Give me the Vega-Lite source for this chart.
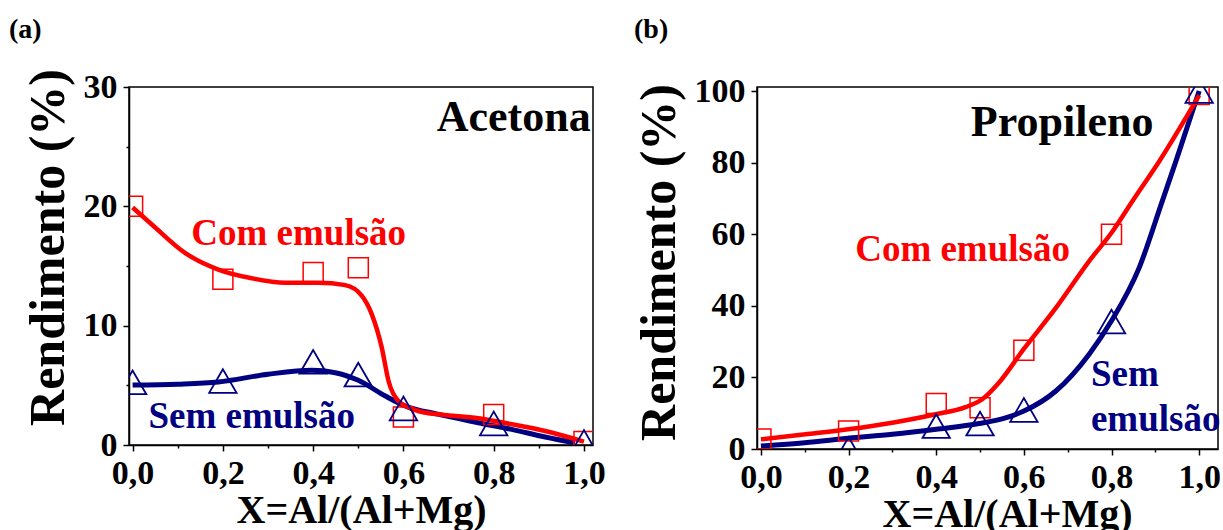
{
  "$schema": "https://vega.github.io/schema/vega-lite/v6.json",
  "background": "white",
  "padding": {"left": 8, "top": 14, "right": 0, "bottom": 0},
  "spacing": 27,
  "config": {
    "font": "Liberation Serif",
    "view": {"stroke": "black", "strokeWidth": 1.5},
    "axis": {
      "grid": false,
      "domainColor": "black",
      "domainWidth": 1.5,
      "tickColor": "black",
      "tickWidth": 1.5,
      "labelFont": "Liberation Serif",
      "labelFontWeight": "bold",
      "labelFontSize": 34,
      "labelColor": "black",
      "labelFlush": false,
      "labelOverlap": false,
      "titleFont": "Liberation Serif",
      "titleFontWeight": "bold",
      "titleColor": "black"
    },
    "text": {"font": "Liberation Serif", "fontWeight": "bold", "baseline": "alphabetic", "align": "left"},
    "title": {"font": "Liberation Serif", "fontWeight": "bold", "fontSize": 28, "color": "black", "anchor": "start", "frame": "bounds"}
  },
  "datasets": {
    "acetona_pontos": [
      {"x": 0.0, "rend": 20.0, "serie": "Com emulsão"},
      {"x": 0.2, "rend": 13.9, "serie": "Com emulsão"},
      {"x": 0.4, "rend": 14.45, "serie": "Com emulsão"},
      {"x": 0.5, "rend": 14.86, "serie": "Com emulsão"},
      {"x": 0.6, "rend": 2.35, "serie": "Com emulsão"},
      {"x": 0.8, "rend": 2.55, "serie": "Com emulsão"},
      {"x": 1.0, "rend": 0.3, "serie": "Com emulsão"},
      {"x": 0.0, "rend": 5.25, "serie": "Sem emulsão"},
      {"x": 0.2, "rend": 5.36, "serie": "Sem emulsão"},
      {"x": 0.4, "rend": 6.97, "serie": "Sem emulsão"},
      {"x": 0.5, "rend": 5.9, "serie": "Sem emulsão"},
      {"x": 0.6, "rend": 3.06, "serie": "Sem emulsão"},
      {"x": 0.8, "rend": 1.8, "serie": "Sem emulsão"},
      {"x": 1.0, "rend": 0.25, "serie": "Sem emulsão"}
    ],
    "acetona_ajuste": [
      {"x": 0.0, "rend": 19.9, "serie": "Com emulsão"},
      {"x": 0.042, "rend": 18.5, "serie": "Com emulsão"},
      {"x": 0.116, "rend": 16.1, "serie": "Com emulsão"},
      {"x": 0.19, "rend": 14.7, "serie": "Com emulsão"},
      {"x": 0.264, "rend": 13.97, "serie": "Com emulsão"},
      {"x": 0.338, "rend": 13.6, "serie": "Com emulsão"},
      {"x": 0.412, "rend": 13.6, "serie": "Com emulsão"},
      {"x": 0.471, "rend": 13.4, "serie": "Com emulsão"},
      {"x": 0.508, "rend": 12.5, "serie": "Com emulsão"},
      {"x": 0.53, "rend": 10.95, "serie": "Com emulsão"},
      {"x": 0.552, "rend": 8.16, "serie": "Com emulsão"},
      {"x": 0.567, "rend": 5.36, "serie": "Com emulsão"},
      {"x": 0.589, "rend": 3.69, "serie": "Com emulsão"},
      {"x": 0.633, "rend": 2.85, "serie": "Com emulsão"},
      {"x": 0.678, "rend": 2.57, "serie": "Com emulsão"},
      {"x": 0.766, "rend": 2.24, "serie": "Com emulsão"},
      {"x": 0.84, "rend": 1.74, "serie": "Com emulsão"},
      {"x": 0.914, "rend": 1.17, "serie": "Com emulsão"},
      {"x": 1.0, "rend": 0.28, "serie": "Com emulsão"},
      {"x": 0.0, "rend": 5.03, "serie": "Sem emulsão"},
      {"x": 0.1, "rend": 5.1, "serie": "Sem emulsão"},
      {"x": 0.19, "rend": 5.28, "serie": "Sem emulsão"},
      {"x": 0.3, "rend": 5.93, "serie": "Sem emulsão"},
      {"x": 0.397, "rend": 6.26, "serie": "Sem emulsão"},
      {"x": 0.449, "rend": 6.06, "serie": "Sem emulsão"},
      {"x": 0.5, "rend": 5.42, "serie": "Sem emulsão"},
      {"x": 0.56, "rend": 4.1, "serie": "Sem emulsão"},
      {"x": 0.604, "rend": 3.27, "serie": "Sem emulsão"},
      {"x": 0.678, "rend": 2.57, "serie": "Sem emulsão"},
      {"x": 0.766, "rend": 1.87, "serie": "Sem emulsão"},
      {"x": 0.84, "rend": 1.31, "serie": "Sem emulsão"},
      {"x": 0.914, "rend": 0.67, "serie": "Sem emulsão"},
      {"x": 0.98, "rend": 0.19, "serie": "Sem emulsão"}
    ],
    "propileno_pontos": [
      {"x": 0.0, "rend": 2.8, "serie": "Com emulsão"},
      {"x": 0.2, "rend": 5.0, "serie": "Com emulsão"},
      {"x": 0.4, "rend": 12.7, "serie": "Com emulsão"},
      {"x": 0.5, "rend": 11.5, "serie": "Com emulsão"},
      {"x": 0.6, "rend": 27.6, "serie": "Com emulsão"},
      {"x": 0.8, "rend": 60.0, "serie": "Com emulsão"},
      {"x": 1.0, "rend": 99.0, "serie": "Com emulsão"},
      {"x": 0.2, "rend": 0.0, "serie": "Sem emulsão"},
      {"x": 0.4, "rend": 6.4, "serie": "Sem emulsão"},
      {"x": 0.5, "rend": 7.1, "serie": "Sem emulsão"},
      {"x": 0.6, "rend": 10.9, "serie": "Sem emulsão"},
      {"x": 0.8, "rend": 35.6, "serie": "Sem emulsão"},
      {"x": 1.0, "rend": 100.0, "serie": "Sem emulsão"}
    ],
    "propileno_ajuste": [
      {"x": 0.0, "rend": 2.7, "serie": "Com emulsão"},
      {"x": 0.102, "rend": 4.1, "serie": "Com emulsão"},
      {"x": 0.199, "rend": 5.5, "serie": "Com emulsão"},
      {"x": 0.3, "rend": 7.35, "serie": "Com emulsão"},
      {"x": 0.399, "rend": 9.7, "serie": "Com emulsão"},
      {"x": 0.467, "rend": 11.7, "serie": "Com emulsão"},
      {"x": 0.505, "rend": 13.9, "serie": "Com emulsão"},
      {"x": 0.543, "rend": 18.5, "serie": "Com emulsão"},
      {"x": 0.599, "rend": 27.8, "serie": "Com emulsão"},
      {"x": 0.673, "rend": 39.4, "serie": "Com emulsão"},
      {"x": 0.749, "rend": 52.5, "serie": "Com emulsão"},
      {"x": 0.8, "rend": 60.4, "serie": "Com emulsão"},
      {"x": 0.848, "rend": 69.3, "serie": "Com emulsão"},
      {"x": 0.909, "rend": 80.4, "serie": "Com emulsão"},
      {"x": 1.0, "rend": 98.8, "serie": "Com emulsão"},
      {"x": 0.0, "rend": 0.85, "serie": "Sem emulsão"},
      {"x": 0.1, "rend": 1.77, "serie": "Sem emulsão"},
      {"x": 0.2, "rend": 3.0, "serie": "Sem emulsão"},
      {"x": 0.3, "rend": 4.1, "serie": "Sem emulsão"},
      {"x": 0.4, "rend": 5.5, "serie": "Sem emulsão"},
      {"x": 0.498, "rend": 7.1, "serie": "Sem emulsão"},
      {"x": 0.56, "rend": 8.75, "serie": "Sem emulsão"},
      {"x": 0.6, "rend": 10.6, "serie": "Sem emulsão"},
      {"x": 0.673, "rend": 16.2, "serie": "Sem emulsão"},
      {"x": 0.749, "rend": 26.5, "serie": "Sem emulsão"},
      {"x": 0.8, "rend": 35.8, "serie": "Sem emulsão"},
      {"x": 0.863, "rend": 50.6, "serie": "Sem emulsão"},
      {"x": 0.916, "rend": 69.3, "serie": "Sem emulsão"},
      {"x": 0.947, "rend": 80.4, "serie": "Sem emulsão"},
      {"x": 1.0, "rend": 100.0, "serie": "Sem emulsão"}
    ]
  },
  "hconcat": [
    {
      "width": 464,
      "height": 358,
      "title": {"text": "(a)", "dx": -14, "offset": 25},
      "layer": [
        {
          "data": {"name": "acetona_ajuste"},
          "transform": [{"filter": "datum.serie == 'Sem emulsão'"}],
          "mark": {"type": "line", "interpolate": "monotone", "color": "#000080", "strokeWidth": 5, "clip": true},
          "encoding": {
            "x": {
              "field": "x", "type": "quantitative",
              "scale": {"domain": [-0.008, 1.02], "nice": false, "zero": false},
              "axis": {
                "title": "X=Al/(Al+Mg)",
                "titleFontSize": 40,
                "titlePadding": 0,
                "labelPadding": 5,
                "values": [0, 0.1, 0.2, 0.3, 0.4, 0.5, 0.6, 0.7, 0.8, 0.9, 1.0],
                "labelExpr": "round(datum.value * 10) % 2 == 1 ? '' : replace(format(datum.value, '.1f'), '.', ',')",
                "tickSize": {"condition": {"test": "round(datum.value * 10) % 2 == 1", "value": 3}, "value": 6}
              }
            },
            "y": {
              "field": "rend", "type": "quantitative",
              "scale": {"domain": [0, 30], "nice": false},
              "axis": {
                "title": "Rendimento (%)",
                "titleFontSize": 50,
                "titlePadding": 10,
                "titleY": 160,
                "labelPadding": 6,
                "values": [0, 5, 10, 15, 20, 25, 30],
                "labelExpr": "datum.value % 10 == 0 ? format(datum.value, 'd') : ''",
                "tickSize": {"condition": {"test": "datum.value % 10 != 0", "value": 3}, "value": 6}
              }
            }
          }
        },
        {
          "data": {"name": "acetona_ajuste"},
          "transform": [{"filter": "datum.serie == 'Com emulsão'"}],
          "mark": {"type": "line", "interpolate": "monotone", "color": "#ff0000", "strokeWidth": 4.5, "clip": true},
          "encoding": {
            "x": {"field": "x", "type": "quantitative", "scale": {"domain": [-0.008, 1.02], "nice": false, "zero": false}},
            "y": {"field": "rend", "type": "quantitative", "scale": {"domain": [0, 30], "nice": false}}
          }
        },
        {
          "data": {"name": "acetona_pontos"},
          "transform": [{"filter": "datum.serie == 'Com emulsão'"}],
          "mark": {"type": "point", "shape": "square", "size": 400, "filled": false, "color": "#ff0000", "strokeWidth": 1.5, "opacity": 1, "clip": true},
          "encoding": {
            "x": {"field": "x", "type": "quantitative", "scale": {"domain": [-0.008, 1.02], "nice": false, "zero": false}},
            "y": {"field": "rend", "type": "quantitative", "scale": {"domain": [0, 30], "nice": false}}
          }
        },
        {
          "data": {"name": "acetona_pontos"},
          "transform": [{"filter": "datum.serie == 'Sem emulsão'"}],
          "mark": {"type": "point", "shape": "triangle-up", "size": 750, "filled": false, "color": "#000080", "strokeWidth": 1.8, "opacity": 1, "clip": true},
          "encoding": {
            "x": {"field": "x", "type": "quantitative", "scale": {"domain": [-0.008, 1.02], "nice": false, "zero": false}},
            "y": {"field": "rend", "type": "quantitative", "scale": {"domain": [0, 30], "nice": false}}
          }
        },
        {
          "data": {"values": [{}]},
          "mark": {"type": "text", "text": "Acetona", "align": "right", "fontSize": 44, "color": "black"},
          "encoding": {"x": {"datum": 1.015}, "y": {"datum": 26.3}}
        },
        {
          "data": {"values": [{}]},
          "mark": {"type": "text", "text": "Com emulsão", "fontSize": 37, "color": "#ff0000"},
          "encoding": {"x": {"datum": 0.13}, "y": {"datum": 16.8}}
        },
        {
          "data": {"values": [{}]},
          "mark": {"type": "text", "text": "Sem emulsão", "fontSize": 37, "color": "#000080"},
          "encoding": {"x": {"datum": 0.035}, "y": {"datum": 1.45}}
        }
      ]
    },
    {
      "width": 461,
      "height": 362,
      "title": {"text": "(b)", "dx": 0, "dy": -5, "offset": 25},
      "layer": [
        {
          "data": {"name": "propileno_ajuste"},
          "transform": [{"filter": "datum.serie == 'Sem emulsão'"}],
          "mark": {"type": "line", "interpolate": "monotone", "color": "#000080", "strokeWidth": 5, "clip": true},
          "encoding": {
            "x": {
              "field": "x", "type": "quantitative",
              "scale": {"domain": [-0.009, 1.043], "nice": false, "zero": false},
              "axis": {
                "title": "X=Al/(Al+Mg)",
                "titleFontSize": 40,
                "titlePadding": 0,
                "titleX": 250,
                "labelPadding": 5,
                "values": [0, 0.1, 0.2, 0.3, 0.4, 0.5, 0.6, 0.7, 0.8, 0.9, 1.0],
                "labelExpr": "round(datum.value * 10) % 2 == 1 ? '' : replace(format(datum.value, '.1f'), '.', ',')",
                "tickSize": {"condition": {"test": "round(datum.value * 10) % 2 == 1", "value": 3}, "value": 6}
              }
            },
            "y": {
              "field": "rend", "type": "quantitative",
              "scale": {"domain": [0, 101.12], "nice": false},
              "axis": {
                "title": "Rendimento (%)",
                "titleFontSize": 50,
                "titlePadding": 10,
                "titleY": 175,
                "labelPadding": 6,
                "values": [0, 10, 20, 30, 40, 50, 60, 70, 80, 90, 100],
                "labelExpr": "datum.value % 20 == 0 ? format(datum.value, 'd') : ''",
                "tickSize": {"condition": {"test": "datum.value % 20 != 0", "value": 3}, "value": 6}
              }
            }
          }
        },
        {
          "data": {"name": "propileno_ajuste"},
          "transform": [{"filter": "datum.serie == 'Com emulsão'"}],
          "mark": {"type": "line", "interpolate": "monotone", "color": "#ff0000", "strokeWidth": 4.5, "clip": true},
          "encoding": {
            "x": {"field": "x", "type": "quantitative", "scale": {"domain": [-0.009, 1.043], "nice": false, "zero": false}},
            "y": {"field": "rend", "type": "quantitative", "scale": {"domain": [0, 101.12], "nice": false}}
          }
        },
        {
          "data": {"name": "propileno_pontos"},
          "transform": [{"filter": "datum.serie == 'Com emulsão'"}],
          "mark": {"type": "point", "shape": "square", "size": 400, "filled": false, "color": "#ff0000", "strokeWidth": 1.5, "opacity": 1, "clip": true},
          "encoding": {
            "x": {"field": "x", "type": "quantitative", "scale": {"domain": [-0.009, 1.043], "nice": false, "zero": false}},
            "y": {"field": "rend", "type": "quantitative", "scale": {"domain": [0, 101.12], "nice": false}}
          }
        },
        {
          "data": {"name": "propileno_pontos"},
          "transform": [{"filter": "datum.serie == 'Sem emulsão'"}],
          "mark": {"type": "point", "shape": "triangle-up", "size": 750, "filled": false, "color": "#000080", "strokeWidth": 1.8, "opacity": 1, "clip": true},
          "encoding": {
            "x": {"field": "x", "type": "quantitative", "scale": {"domain": [-0.009, 1.043], "nice": false, "zero": false}},
            "y": {"field": "rend", "type": "quantitative", "scale": {"domain": [0, 101.12], "nice": false}}
          }
        },
        {
          "data": {"values": [{}]},
          "mark": {"type": "text", "text": "Propileno", "fontSize": 44, "color": "black"},
          "encoding": {"x": {"datum": 0.479}, "y": {"datum": 87.4}}
        },
        {
          "data": {"values": [{}]},
          "mark": {"type": "text", "text": "Com emulsão", "fontSize": 37, "color": "#ff0000"},
          "encoding": {"x": {"datum": 0.215}, "y": {"datum": 52.5}}
        },
        {
          "data": {"values": [{}]},
          "mark": {"type": "text", "text": "Sem", "fontSize": 37, "color": "#000080"},
          "encoding": {"x": {"datum": 0.753}, "y": {"datum": 17.6}}
        },
        {
          "data": {"values": [{}]},
          "mark": {"type": "text", "text": "emulsão", "fontSize": 37, "color": "#000080"},
          "encoding": {"x": {"datum": 0.753}, "y": {"datum": 5.0}}
        }
      ]
    }
  ]
}
